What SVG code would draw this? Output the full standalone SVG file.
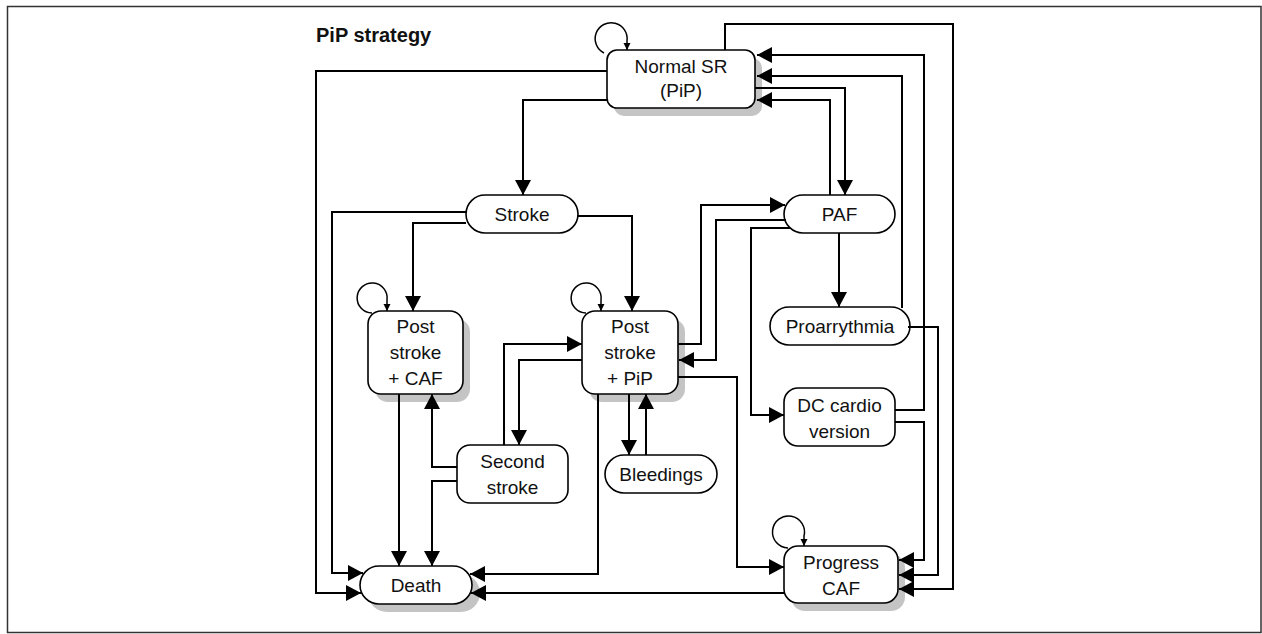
<svg xmlns="http://www.w3.org/2000/svg" width="1262" height="634" viewBox="0 0 1262 634">
<defs>
<marker id="arr" markerUnits="userSpaceOnUse" markerWidth="16" markerHeight="18" refX="15" refY="8" orient="auto"><path d="M0,0 L15,8 L0,16 z" fill="#000"/></marker>
<marker id="sarr" markerUnits="userSpaceOnUse" markerWidth="9" markerHeight="9" refX="7" refY="3.5" orient="auto"><path d="M0,0 L7,3.5 L0,7 z" fill="#000"/></marker>
</defs>
<style>
.box{fill:#fff;stroke:#000;stroke-width:1.6}
.sh{fill:#c4c4c4;stroke:none}
.t{font-family:"Liberation Sans",Arial,sans-serif;font-size:19px;fill:#111;text-anchor:middle}
.title{font-family:"Liberation Sans",Arial,sans-serif;font-size:20px;font-weight:bold;fill:#111}
.c path{fill:none;stroke:#000;stroke-width:2;marker-end:url(#arr)}
.c path.loop{stroke-width:1.5;marker-end:url(#sarr)}
</style>
<rect x="7.5" y="6.5" width="1253.5" height="626" fill="#fff" stroke="#333" stroke-width="1.5"/>
<text class="title" x="316" y="42">PiP strategy</text>

<g id="normal-sr">
<rect class="sh" x="614" y="58" width="148" height="58" rx="10"/>
<rect class="box" x="607" y="50" width="148" height="58" rx="10"/>
<text class="t" x="681" y="73">Normal SR</text>
<text class="t" x="681" y="97">(PiP)</text>
</g>
<g id="stroke">
<rect class="box" x="466" y="195" width="112" height="38" rx="19"/>
<text class="t" x="522" y="221">Stroke</text>
</g>
<g id="paf">
<rect class="box" x="784" y="195" width="111" height="38" rx="19"/>
<text class="t" x="839.5" y="221">PAF</text>
</g>
<g id="post-stroke-caf">
<rect class="sh" x="375" y="319" width="95" height="83" rx="13"/>
<rect class="box" x="368" y="311" width="95" height="83" rx="13"/>
<text class="t" x="415.5" y="333">Post</text>
<text class="t" x="415.5" y="359">stroke</text>
<text class="t" x="415.5" y="385">+ CAF</text>
</g>
<g id="post-stroke-pip">
<rect class="sh" x="589" y="319" width="96" height="83" rx="13"/>
<rect class="box" x="582" y="311" width="96" height="83" rx="13"/>
<text class="t" x="630" y="333">Post</text>
<text class="t" x="630" y="359">stroke</text>
<text class="t" x="630" y="385">+ PiP</text>
</g>
<g id="proarrythmia">
<rect class="box" x="770" y="307" width="140" height="38" rx="19"/>
<text class="t" x="840" y="333">Proarrythmia</text>
</g>
<g id="dc-cardio-version">
<rect class="box" x="784" y="388" width="111" height="58" rx="14"/>
<text class="t" x="839.5" y="412">DC cardio</text>
<text class="t" x="839.5" y="438">version</text>
</g>
<g id="second-stroke">
<rect class="box" x="457" y="445" width="111" height="58" rx="13"/>
<text class="t" x="512.5" y="468">Second</text>
<text class="t" x="512.5" y="494">stroke</text>
</g>
<g id="bleedings">
<rect class="box" x="605" y="455" width="112" height="38" rx="19"/>
<text class="t" x="661" y="481">Bleedings</text>
</g>
<g id="death">
<rect class="sh" x="368" y="574" width="112" height="38" rx="19"/>
<rect class="box" x="360" y="566" width="112" height="38" rx="19"/>
<text class="t" x="416" y="592">Death</text>
</g>
<g id="progress-caf">
<rect class="sh" x="791" y="554" width="114" height="57" rx="14"/>
<rect class="box" x="784" y="546" width="114" height="57" rx="14"/>
<text class="t" x="841" y="569">Progress</text>
<text class="t" x="841" y="595">CAF</text>
</g>

<g id="connectors" class="c">
<path class="loop" d="M604,53 A16,16 0 1,1 627,41 L627,50"/>
<path class="loop" d="M372,313 A15,15 0 1,1 387,300 L387,311"/>
<path class="loop" d="M586,313 A15,15 0 1,1 601,300 L601,311"/>
<path class="loop" d="M788,548 A16,16 0 1,1 804,536 L804,546"/>
<path d="M607,71 H316 V593 H361"/>
<path d="M607,100 H523 V195"/>
<path d="M755,88 H845 V195"/>
<path d="M830,195 V100 H757"/>
<path d="M902,308 V76 H757"/>
<path d="M895,410 H924 V55 H757"/>
<path d="M725,50 V24 H953 V589 H899"/>
<path d="M467,212 H332 V573 H363"/>
<path d="M466,223 H413 V311"/>
<path d="M577,216 H632 V311"/>
<path d="M678,344 H701 V205 H785"/>
<path d="M786,220 H716 V360 H679"/>
<path d="M790,228 H751 V415 H784"/>
<path d="M839,233 V307"/>
<path d="M908,327 H938 V575 H899"/>
<path d="M895,422 H924 V560 H899"/>
<path d="M678,377 H737 V567 H784"/>
<path d="M582,360 H519 V445"/>
<path d="M504,445 V344 H582"/>
<path d="M399,394 V566"/>
<path d="M457,467 H432 V394"/>
<path d="M457,481 H432 V566"/>
<path d="M598,394 V574 H470"/>
<path d="M629,394 V455"/>
<path d="M646,455 V394"/>
<path d="M784,593 H471"/>
</g>
</svg>
